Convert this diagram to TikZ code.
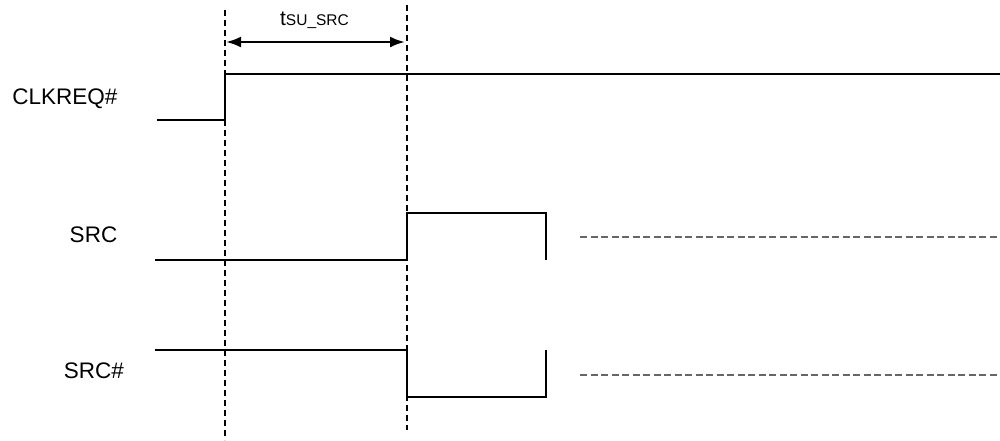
\documentclass[tikz,border=0pt]{standalone}
\usepackage{fontspec}
\setmainfont{Liberation Sans}
\usetikzlibrary{arrows.meta}
\begin{document}
\begin{tikzpicture}[x=1pt,y=-1pt,
  sig/.style={line width=1.3pt, black},
  guide/.style={line width=1.1pt, black, dash pattern=on 6pt off 4pt},
  idle/.style={line width=1.1pt, gray!80!black, dash pattern=on 7pt off 3.5pt},
  lbl/.style={font=\fontsize{22.5pt}{26pt}\selectfont, inner sep=0pt, anchor=base},
  dim/.style={line width=2.4pt, {Latex[length=15pt,width=11pt]}-{Latex[length=15pt,width=11pt]}}]
\useasboundingbox (0,0) rectangle (1000,440);
% guides
\coordinate (g1t) at (225,10); \coordinate (g1b) at (225,440);
\coordinate (g2t) at (407,5);  \coordinate (g2b) at (407,430);
\draw[guide] (g1t) -- (g1b);
\draw[guide] (g2t) -- (g2b);
% dimension
\coordinate (a1) at (226,42); \coordinate (a2) at (405,42);
\draw[dim] (a1) -- (a2);
\node[inner sep=0pt, anchor=base] (tsu) at (314.5,25) {\fontsize{21pt}{24pt}\selectfont t\fontsize{15.5pt}{18pt}\selectfont SU\_SRC};
% labels
\node[lbl] (lclk) at (65,104) {CLKREQ\#};
\node[lbl] (lsrc) at (93.5,242) {SRC};
\node[lbl] (lsrcn) at (94,378) {SRC\#};
% CLKREQ#
\coordinate (c0) at (157,120);
\draw[sig] (c0) -- (225,120) -- (225,74) -- (1000,74);
% SRC
\coordinate (s0) at (155,260);
\draw[sig] (s0) -- (407,260) -- (407,213) -- (546,213) -- (546,260);
\coordinate (s1) at (580,237); \coordinate (s2) at (1000,237);
\draw[idle] (s1) -- (s2);
% SRC#
\coordinate (n0) at (155,350);
\draw[sig] (n0) -- (407,350) -- (407,397) -- (546,397) -- (546,350);
\coordinate (n1) at (580,375); \coordinate (n2) at (1000,375);
\draw[idle] (n1) -- (n2);
\end{tikzpicture}
\end{document}
